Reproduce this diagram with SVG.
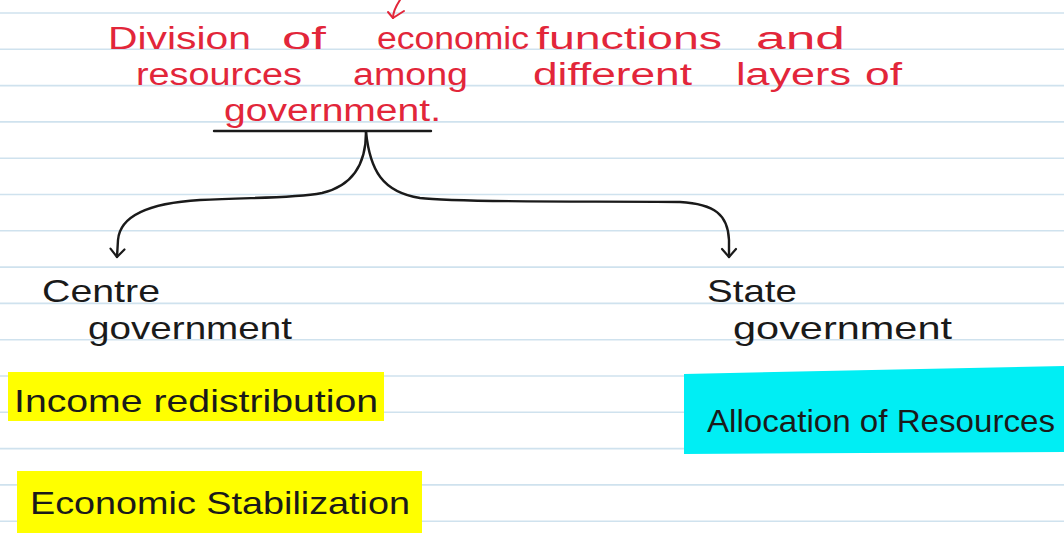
<svg xmlns="http://www.w3.org/2000/svg" width="1064" height="533" viewBox="0 0 1064 533">
<style>
.rule{stroke:#cfe2ee;stroke-width:1.6}
.red{fill:#e2263a;font-family:"Liberation Sans",sans-serif;font-size:31px}
.ink{fill:#1a1a1a;font-family:"Liberation Sans",sans-serif;font-size:32px}
.conn{fill:none;stroke:#1a1a1a;stroke-width:2.4;stroke-linecap:round;stroke-linejoin:round}
.redline{fill:none;stroke:#e2263a;stroke-width:2;stroke-linecap:round;stroke-linejoin:round}
</style>
<defs>
<marker id="vhead" viewBox="-10 -10 20 20" markerWidth="20" markerHeight="20" refX="0" refY="0" orient="auto" markerUnits="userSpaceOnUse">
<polyline points="-8,-7 0,0 -8,7" fill="none" stroke="#1a1a1a" stroke-width="2.2" stroke-linecap="round" stroke-linejoin="round"/>
</marker>
</defs>
<rect width="1064" height="533" fill="#ffffff"/>
<g id="ruling">
<line class="rule" x1="0" y1="13" x2="1064" y2="13"/>
<line class="rule" x1="0" y1="49.3" x2="1064" y2="49.3"/>
<line class="rule" x1="0" y1="85.6" x2="1064" y2="85.6"/>
<line class="rule" x1="0" y1="121.9" x2="1064" y2="121.9"/>
<line class="rule" x1="0" y1="158.2" x2="1064" y2="158.2"/>
<line class="rule" x1="0" y1="194.5" x2="1064" y2="194.5"/>
<line class="rule" x1="0" y1="230.8" x2="1064" y2="230.8"/>
<line class="rule" x1="0" y1="267.1" x2="1064" y2="267.1"/>
<line class="rule" x1="0" y1="303.4" x2="1064" y2="303.4"/>
<line class="rule" x1="0" y1="339.7" x2="1064" y2="339.7"/>
<line class="rule" x1="0" y1="376" x2="1064" y2="376"/>
<line class="rule" x1="0" y1="412.3" x2="1064" y2="412.3"/>
<line class="rule" x1="0" y1="448.6" x2="1064" y2="448.6"/>
<line class="rule" x1="0" y1="484.9" x2="1064" y2="484.9"/>
<line class="rule" x1="0" y1="521.2" x2="1064" y2="521.2"/>
</g>
<g id="title">
<path class="redline" d="M400,0 C396,6 393,11 393,18"/>
<path class="redline" d="M388,12 L393,18 L404,11"/>
<text class="red" y="49"><tspan x="108" textLength="143" lengthAdjust="spacingAndGlyphs">Division</tspan><tspan x="282" textLength="44" lengthAdjust="spacingAndGlyphs">of</tspan><tspan x="377" textLength="152" lengthAdjust="spacingAndGlyphs">economic</tspan><tspan x="536" textLength="186" lengthAdjust="spacingAndGlyphs">functions</tspan><tspan x="756" textLength="89" lengthAdjust="spacingAndGlyphs">and</tspan></text>
<text class="red" y="85"><tspan x="136" textLength="166" lengthAdjust="spacingAndGlyphs">resources</tspan><tspan x="353" textLength="115" lengthAdjust="spacingAndGlyphs">among</tspan><tspan x="533" textLength="159" lengthAdjust="spacingAndGlyphs">different</tspan><tspan x="736" textLength="115" lengthAdjust="spacingAndGlyphs">layers</tspan><tspan x="865" textLength="37" lengthAdjust="spacingAndGlyphs">of</tspan></text>
<text class="red" y="121"><tspan x="224" textLength="217" lengthAdjust="spacingAndGlyphs">government.</tspan></text>
<line x1="214" y1="131" x2="431" y2="131" stroke="#1a1a1a" stroke-width="2.4" stroke-linecap="round"/>
</g>
<g id="connectors">
<path class="conn" d="M366,132 C366,160 356,185 322,193 C290,199 250,197 200,200 C150,203 120,215 118,240 L117,257" marker-end="url(#vhead)"/>
<path class="conn" d="M366,132 C370,170 382,192 420,198 C460,203 600,201 680,202 C715,204 728,215 729,240 L729,257" marker-end="url(#vhead)"/>
</g>
<g id="centre">
<text class="ink" y="302"><tspan x="42" textLength="118" lengthAdjust="spacingAndGlyphs">Centre</tspan></text>
<text class="ink" y="339"><tspan x="88" textLength="204" lengthAdjust="spacingAndGlyphs">government</tspan></text>
</g>
<g id="state">
<text class="ink" y="302"><tspan x="707" textLength="90" lengthAdjust="spacingAndGlyphs">State</tspan></text>
<text class="ink" y="339"><tspan x="733" textLength="219" lengthAdjust="spacingAndGlyphs">government</tspan></text>
</g>
<g id="income">
<rect x="8" y="372" width="376" height="49" fill="#ffff00"/>
<text class="ink" y="412"><tspan x="14" textLength="364" lengthAdjust="spacingAndGlyphs">Income redistribution</tspan></text>
</g>
<g id="stabilization">
<rect x="17" y="471" width="405" height="62" fill="#ffff00"/>
<text class="ink" y="514"><tspan x="30" textLength="380" lengthAdjust="spacingAndGlyphs">Economic Stabilization</tspan></text>
</g>
<g id="allocation">
<path d="M684,374 L1064,366 L1064,452 L684,454 Z" fill="#00eef4"/>
<text class="ink" y="432"><tspan x="707" textLength="348" lengthAdjust="spacingAndGlyphs">Allocation of Resources</tspan></text>
</g>
</svg>
